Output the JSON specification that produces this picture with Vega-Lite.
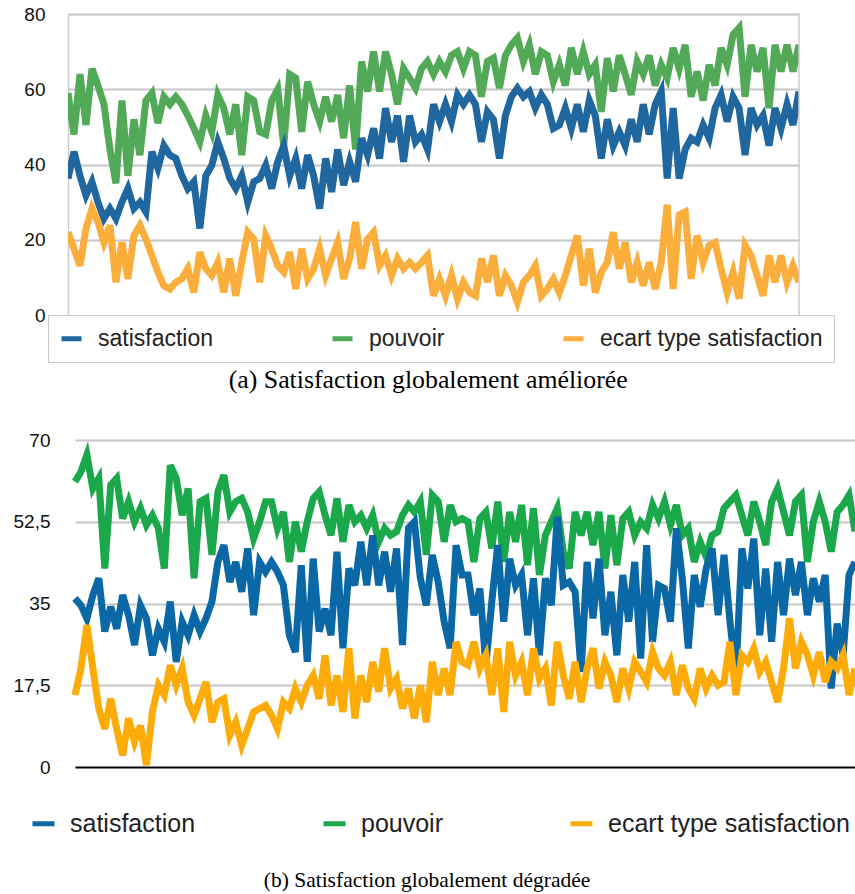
{
  "$schema": "https://vega.github.io/schema/vega-lite/v6.json",
  "padding": {"left": 13, "top": 5, "right": 0, "bottom": 0},
  "background": "white",
  "spacing": 38,
  "config": {
    "view": {"stroke": null},
    "font": "Liberation Sans",
    "title": {"font": "Liberation Serif", "fontWeight": "normal", "color": "#000"}
  },
  "datasets": {
    "a": [
      {"t":0,"s":36.3,"p":59,"e":22},{"t":1,"s":43.4,"p":48,"e":17.6},{"t":2,"s":37,"p":64,"e":13.1},{"t":3,"s":31.8,"p":50.5,"e":23},{"t":4,"s":35.4,"p":65.5,"e":28.3},{"t":5,"s":30,"p":61,"e":24.7},{"t":6,"s":25.6,"p":56,"e":19.3},{"t":7,"s":28.3,"p":44,"e":23.8},{"t":8,"s":25.6,"p":35,"e":8.7},{"t":9,"s":30,"p":57,"e":19.3},
      {"t":10,"s":33.6,"p":37,"e":9.6},{"t":11,"s":28.3,"p":52,"e":21.1},{"t":12,"s":30,"p":42.5,"e":23.8},{"t":13,"s":27.4,"p":57,"e":20.2},{"t":14,"s":43.4,"p":59,"e":15.8},{"t":15,"s":39,"p":51,"e":11.4},{"t":16,"s":45,"p":58,"e":7.8},{"t":17,"s":42.5,"p":56,"e":6.9},{"t":18,"s":41.6,"p":58,"e":8.7},{"t":19,"s":37,"p":56,"e":9.6},
      {"t":20,"s":33.6,"p":53,"e":12.3},{"t":21,"s":35.4,"p":49.6,"e":6},{"t":22,"s":23,"p":46,"e":16.7},{"t":23,"s":37,"p":53,"e":12.3},{"t":24,"s":39.8,"p":48.7,"e":10.5},{"t":25,"s":46,"p":58.5,"e":14},{"t":26,"s":41.6,"p":55,"e":6},{"t":27,"s":36.3,"p":48,"e":15},{"t":28,"s":33.6,"p":56,"e":5.1},{"t":29,"s":37,"p":42.5,"e":14},
      {"t":30,"s":30,"p":58,"e":22},{"t":31,"s":35.4,"p":57,"e":20.2},{"t":32,"s":36.3,"p":48.7,"e":8.7},{"t":33,"s":39.8,"p":48,"e":21.1},{"t":34,"s":33.6,"p":57,"e":17.6},{"t":35,"s":40.7,"p":60,"e":13.1},{"t":36,"s":45,"p":45,"e":11.4},{"t":37,"s":37,"p":64,"e":16.7},{"t":38,"s":41.6,"p":63,"e":6.9},{"t":39,"s":33.6,"p":48.7,"e":17.6},
      {"t":40,"s":42.5,"p":62,"e":9.6},{"t":41,"s":37,"p":56,"e":12.3},{"t":42,"s":28.3,"p":51.4,"e":17.6},{"t":43,"s":41.6,"p":58,"e":10.5},{"t":44,"s":32.7,"p":51.4,"e":15},{"t":45,"s":44,"p":58.5,"e":19.3},{"t":46,"s":34.5,"p":47,"e":9.6},{"t":47,"s":40.7,"p":61,"e":15},{"t":48,"s":35.4,"p":44,"e":24.7},{"t":49,"s":47,"p":67.4,"e":12.3},
      {"t":50,"s":42.5,"p":59.4,"e":20.2},{"t":51,"s":49.6,"p":70,"e":22},{"t":52,"s":41.6,"p":59.4,"e":13.1},{"t":53,"s":55,"p":70,"e":15.8},{"t":54,"s":46,"p":64,"e":10.5},{"t":55,"s":53,"p":56,"e":15},{"t":56,"s":40.7,"p":65.5,"e":12.3},{"t":57,"s":53,"p":63,"e":14},{"t":58,"s":46,"p":60.3,"e":12.3},{"t":59,"s":48,"p":65.5,"e":14},
      {"t":60,"s":44,"p":67.4,"e":15.8},{"t":61,"s":56,"p":64,"e":5.1},{"t":62,"s":51.4,"p":67.4,"e":9.6},{"t":63,"s":56,"p":64.7,"e":5.1},{"t":64,"s":51.4,"p":69,"e":10.5},{"t":65,"s":58.5,"p":70,"e":4.3},{"t":66,"s":56,"p":65.5,"e":8.7},{"t":67,"s":58.5,"p":70,"e":6},{"t":68,"s":56,"p":69,"e":5.1},{"t":69,"s":46,"p":58,"e":15},
      {"t":70,"s":54,"p":67.4,"e":8.7},{"t":71,"s":52,"p":68.3,"e":15.8},{"t":72,"s":41.6,"p":60.3,"e":5.1},{"t":73,"s":53,"p":69,"e":10.5},{"t":74,"s":58,"p":71.8,"e":7.8},{"t":75,"s":60.3,"p":73.6,"e":3.4},{"t":76,"s":58,"p":67.4,"e":8.7},{"t":77,"s":59.4,"p":71.8,"e":10.5},{"t":78,"s":55,"p":64,"e":13.1},{"t":79,"s":58.5,"p":70,"e":5.1},
      {"t":80,"s":56,"p":69,"e":6.9},{"t":81,"s":49.6,"p":62,"e":9.6},{"t":82,"s":50.5,"p":66.5,"e":6},{"t":83,"s":55,"p":61,"e":10.5},{"t":84,"s":49.6,"p":71,"e":15.8},{"t":85,"s":56,"p":64,"e":21.1},{"t":86,"s":48.7,"p":70,"e":7.8},{"t":87,"s":57,"p":64,"e":17.6},{"t":88,"s":53,"p":66.5,"e":6},{"t":89,"s":41.6,"p":54,"e":11.4},
      {"t":90,"s":52,"p":68.3,"e":14},{"t":91,"s":45,"p":59.4,"e":22},{"t":92,"s":48.7,"p":69,"e":12.3},{"t":93,"s":45,"p":64,"e":19.3},{"t":94,"s":52,"p":58.5,"e":8.7},{"t":95,"s":46,"p":67.4,"e":14},{"t":96,"s":56,"p":64,"e":7.8},{"t":97,"s":48,"p":69,"e":14},{"t":98,"s":56,"p":61,"e":6.9},{"t":99,"s":59.4,"p":66.5,"e":14},
      {"t":100,"s":36.3,"p":63,"e":29.3},{"t":101,"s":55,"p":71,"e":6.9},{"t":102,"s":36.3,"p":65.5,"e":26.6},{"t":103,"s":44,"p":71.8,"e":27.4},{"t":104,"s":47,"p":58,"e":9.6},{"t":105,"s":46,"p":64.7,"e":21.1},{"t":106,"s":50.5,"p":57,"e":14},{"t":107,"s":47,"p":66.5,"e":18.5},{"t":108,"s":55,"p":61,"e":19.3},{"t":109,"s":58.5,"p":71,"e":12.3},
      {"t":110,"s":51.4,"p":66.5,"e":6},{"t":111,"s":58,"p":74.5,"e":11.4},{"t":112,"s":55,"p":76.3,"e":4.3},{"t":113,"s":42.5,"p":58,"e":18.5},{"t":114,"s":55,"p":71.8,"e":15.8},{"t":115,"s":50.5,"p":64.7,"e":10.5},{"t":116,"s":53,"p":71,"e":5.1},{"t":117,"s":45,"p":55,"e":15.8},{"t":118,"s":55,"p":71.8,"e":8.7},{"t":119,"s":49.6,"p":64.7,"e":15.8},
      {"t":120,"s":56,"p":71.8,"e":8.7},{"t":121,"s":50.5,"p":64.7,"e":13.1},{"t":122,"s":59.4,"p":71.8,"e":8.7}
    ],
    "b": [
      {"t":0,"s":36.1,"p":61.1,"e":15.4},{"t":1,"s":34.6,"p":63.2,"e":21.1},{"t":2,"s":31.8,"p":66.8,"e":30.4},{"t":3,"s":36.8,"p":59.6,"e":21.1},{"t":4,"s":40.4,"p":61.8,"e":12.5},{"t":5,"s":29,"p":42.5,"e":8.2},{"t":6,"s":34.3,"p":60.4,"e":14.6},{"t":7,"s":29.6,"p":61.8,"e":8.2},{"t":8,"s":36.8,"p":53.2,"e":2.5},{"t":9,"s":32.5,"p":56.8,"e":10.4},
      {"t":10,"s":26.1,"p":52.5,"e":5.4},{"t":11,"s":34.6,"p":55.4,"e":8.9},{"t":12,"s":31.8,"p":51.8,"e":0.4},{"t":13,"s":23.9,"p":53.9,"e":11.8},{"t":14,"s":29.6,"p":51.1,"e":17.5},{"t":15,"s":26.8,"p":42.5,"e":15.4},{"t":16,"s":35.4,"p":64.6,"e":21.8},{"t":17,"s":22.5,"p":61.8,"e":17.5},{"t":18,"s":31.1,"p":53.9,"e":21.1},{"t":19,"s":28.2,"p":59.6,"e":13.9},
      {"t":20,"s":32.5,"p":40.4,"e":11.1},{"t":21,"s":29,"p":56.8,"e":14.6},{"t":22,"s":31.8,"p":57.5,"e":18.2},{"t":23,"s":35.4,"p":45.4,"e":9.6},{"t":24,"s":43.9,"p":58.9,"e":13.9},{"t":25,"s":47.5,"p":62.5,"e":14.6},{"t":26,"s":39.6,"p":54.6,"e":6.8},{"t":27,"s":43.9,"p":56.8,"e":9.6},{"t":28,"s":37.5,"p":57.5,"e":4.6},{"t":29,"s":46.8,"p":54.6,"e":8.2},
      {"t":30,"s":32.5,"p":48.9,"e":11.8},{"t":31,"s":43.9,"p":52.5,"e":12.5},{"t":32,"s":41.8,"p":56.8,"e":13.2},{"t":33,"s":43.9,"p":56.8,"e":11.1},{"t":34,"s":41.8,"p":51.1,"e":8.2},{"t":35,"s":38.9,"p":54.6,"e":13.9},{"t":36,"s":28.2,"p":43.9,"e":12.5},{"t":37,"s":24.6,"p":52.5,"e":16.8},{"t":38,"s":43.2,"p":46.1,"e":13.9},{"t":39,"s":22.5,"p":52.5,"e":17.5},
      {"t":40,"s":44.6,"p":57.5,"e":19.6},{"t":41,"s":29,"p":58.9,"e":14.6},{"t":42,"s":33.9,"p":53.9,"e":23.9},{"t":43,"s":28.2,"p":49.6,"e":13.2},{"t":44,"s":46.1,"p":57.5,"e":19.6},{"t":45,"s":25.4,"p":48.2,"e":11.8},{"t":46,"s":42.5,"p":56.1,"e":25.4},{"t":47,"s":38.9,"p":52.5,"e":10.4},{"t":48,"s":48.2,"p":53.9,"e":19.6},{"t":49,"s":38.9,"p":51.1,"e":13.9},
      {"t":50,"s":49.6,"p":53.9,"e":22.5},{"t":51,"s":38.9,"p":48.2,"e":16.1},{"t":52,"s":46.1,"p":51.1,"e":25.4},{"t":53,"s":37.5,"p":49.6,"e":16.8},{"t":54,"s":46.8,"p":50.4,"e":18.9},{"t":55,"s":26.1,"p":53.9,"e":12.5},{"t":56,"s":51.1,"p":56.1,"e":16.8},{"t":57,"s":52.5,"p":54.6,"e":10.4},{"t":58,"s":40.4,"p":56.8,"e":17.5},{"t":59,"s":34.6,"p":45.4,"e":9.6},
      {"t":60,"s":45.4,"p":58.2,"e":22.5},{"t":61,"s":39.6,"p":56.8,"e":15.4},{"t":62,"s":31.1,"p":48.2,"e":21.1},{"t":63,"s":25.4,"p":56.1,"e":15.4},{"t":64,"s":47.5,"p":52.5,"e":26.8},{"t":65,"s":41.1,"p":53.2,"e":22.5},{"t":66,"s":41.1,"p":52.5,"e":21.8},{"t":67,"s":32.5,"p":43.9,"e":26.8},{"t":68,"s":38.2,"p":53.2,"e":21.1},{"t":69,"s":21.8,"p":54.6,"e":23.9},
      {"t":70,"s":35.4,"p":46.8,"e":15.4},{"t":71,"s":47.5,"p":56.8,"e":25.4},{"t":72,"s":31.1,"p":43.9,"e":11.8},{"t":73,"s":44.6,"p":54.6,"e":26.8},{"t":74,"s":38.9,"p":48.2,"e":19.6},{"t":75,"s":41.1,"p":56.1,"e":22.5},{"t":76,"s":28.2,"p":43.2,"e":15.4},{"t":77,"s":40.4,"p":55.4,"e":25.4},{"t":78,"s":23.9,"p":41.1,"e":18.9},{"t":79,"s":40.4,"p":49.6,"e":21.1},
      {"t":80,"s":34.6,"p":52.5,"e":13.2},{"t":81,"s":53.6,"p":55.4,"e":26.8},{"t":82,"s":38.9,"p":46.1,"e":19.6},{"t":83,"s":39.6,"p":42.5,"e":14.6},{"t":84,"s":37.5,"p":54.6,"e":22.5},{"t":85,"s":20.4,"p":49.6,"e":13.9},{"t":86,"s":43.9,"p":54.6,"e":21.1},{"t":87,"s":31.8,"p":47.5,"e":25.4},{"t":88,"s":44.6,"p":54.6,"e":16.8},{"t":89,"s":28.2,"p":42.5,"e":22.5},
      {"t":90,"s":37.5,"p":53.9,"e":19.6},{"t":91,"s":23.9,"p":43.2,"e":13.9},{"t":92,"s":41.1,"p":53.2,"e":21.1},{"t":93,"s":31.1,"p":54.6,"e":16.8},{"t":94,"s":43.9,"p":49.6,"e":22.5},{"t":95,"s":23.2,"p":52.5,"e":20.4},{"t":96,"s":47.5,"p":51.1,"e":18.2},{"t":97,"s":26.8,"p":56.1,"e":24.6},{"t":98,"s":38.9,"p":53.2,"e":21.1},{"t":99,"s":38.2,"p":56.8,"e":19.6},
      {"t":100,"s":31.1,"p":51.8,"e":22.5},{"t":101,"s":51.1,"p":56.1,"e":15.4},{"t":102,"s":40.4,"p":49.6,"e":21.8},{"t":103,"s":25.4,"p":51.1,"e":16.8},{"t":104,"s":41.1,"p":43.9,"e":14.6},{"t":105,"s":34.3,"p":48.2,"e":21.1},{"t":106,"s":42.5,"p":45,"e":16.8},{"t":107,"s":46.8,"p":49.6,"e":19.6},{"t":108,"s":32.5,"p":50.4,"e":17.5},{"t":109,"s":45.4,"p":55.4,"e":18.2},
      {"t":110,"s":31.1,"p":56.8,"e":26.8},{"t":111,"s":19.6,"p":58.2,"e":15.4},{"t":112,"s":46.8,"p":53.9,"e":23.9},{"t":113,"s":38.2,"p":49.6,"e":22.5},{"t":114,"s":48.9,"p":56.8,"e":25.4},{"t":115,"s":28.2,"p":52.5,"e":20.4},{"t":116,"s":42.5,"p":47.5,"e":22.5},{"t":117,"s":26.8,"p":56.8,"e":18.2},{"t":118,"s":43.9,"p":59.6,"e":13.9},{"t":119,"s":32.5,"p":54.6,"e":21.1},
      {"t":120,"s":44.6,"p":49.6,"e":31.8},{"t":121,"s":36.8,"p":56.8,"e":21.1},{"t":122,"s":43.9,"p":58.2,"e":26.8},{"t":123,"s":32.5,"p":43.9,"e":24},{"t":124,"s":40.4,"p":52.5,"e":19.6},{"t":125,"s":35.4,"p":56.8,"e":24.6},{"t":126,"s":41.1,"p":52.5,"e":18.2},{"t":127,"s":16.8,"p":46.1,"e":22.5},{"t":128,"s":30.7,"p":54.6,"e":21.1},{"t":129,"s":23.9,"p":56.1,"e":24},
      {"t":130,"s":41.1,"p":58.2,"e":15.4},{"t":131,"s":43.9,"p":50.4,"e":21.1}
    ]
  },
  "vconcat": [
    {
      "width": 731,
      "height": 301,
      "title": {"text": "(a) Satisfaction globalement améliorée", "orient": "bottom", "anchor": "middle", "frame": "bounds", "fontSize": 25.8, "offset": 5, "dx": -1},
      "layer": [
        {
          "data": {"name": "a"},
          "transform": [{"fold": ["p", "s", "e"], "as": ["serie", "v"]}],
          "mark": {"type": "line", "strokeWidth": 7, "strokeJoin": "miter", "clip": true},
          "encoding": {
            "x": {"field": "t", "type": "quantitative", "scale": {"domain": [0, 122], "nice": false, "zero": false}, "axis": null},
            "y": {"field": "v", "type": "quantitative", "scale": {"domain": [0, 80], "nice": false},
              "axis": {"values": [0, 20, 40, 60, 80], "title": null, "ticks": false, "grid": true, "gridColor": "#c6c6c6", "gridWidth": 2,
                "gridOpacity": {"condition": {"test": "datum.value === 0", "value": 0}, "value": 1},
                "domain": true, "domainColor": "#cccccc", "domainWidth": 1.5, "labelFontSize": 19, "labelColor": "#111", "labelPadding": 23}},
            "color": {"field": "serie", "type": "nominal",
              "scale": {"domain": ["s", "p", "e"], "range": ["#21679f", "#52a957", "#fbae3c"]},
              "legend": {"orient": "none", "legendX": -20, "legendY": 301, "direction": "horizontal", "title": null,
                "symbolType": "stroke", "symbolSize": 400, "symbolStrokeWidth": 5, "labelFontSize": 23, "labelColor": "#222",
                "labelOffset": 14, "columnPadding": 108, "padding": 11, "strokeColor": "#c8c8c8", "labelLimit": 400,
                "labelExpr": "datum.label == 's' ? 'satisfaction' : datum.label == 'p' ? 'pouvoir' : 'ecart type satisfaction'"}}
          }
        },
        {
          "data": {"values": [{"r": 1}]},
          "mark": {"type": "rule", "color": "#cccccc", "strokeWidth": 1.5},
          "encoding": {"x": {"datum": 122}}
        }
      ]
    },
    {
      "width": 787,
      "height": 327,
      "title": {"text": "(b) Satisfaction globalement dégradée", "orient": "bottom", "anchor": "middle", "frame": "bounds", "fontSize": 21.5, "offset": 33, "dx": -7},
      "data": {"name": "b"},
      "transform": [{"fold": ["p", "s", "e"], "as": ["serie", "v"]}],
      "mark": {"type": "line", "strokeWidth": 7, "strokeJoin": "miter", "clip": true},
      "encoding": {
        "x": {"field": "t", "type": "quantitative", "scale": {"domain": [0, 131], "range": [7, 787], "nice": false, "zero": false},
          "axis": {"labels": false, "ticks": false, "grid": false, "title": null, "domain": true, "domainColor": "#000", "domainWidth": 2}},
        "y": {"field": "v", "type": "quantitative", "scale": {"domain": [0, 70], "nice": false},
          "axis": {"values": [0, 17.5, 35, 52.5, 70], "title": null, "ticks": false, "domain": false, "grid": true, "gridColor": "#c6c6c6", "gridWidth": 2,
            "gridOpacity": {"condition": {"test": "datum.value === 0", "value": 0}, "value": 1},
            "labelExpr": "replace(toString(datum.value), '.', ',')", "labelFontSize": 19, "labelColor": "#111", "labelPadding": 18}},
        "color": {"field": "serie", "type": "nominal",
          "scale": {"domain": ["s", "p", "e"], "range": ["#0a68a6", "#1aa84b", "#fdab08"]},
          "legend": {"orient": "none", "legendX": -38, "legendY": 370, "direction": "horizontal", "title": null,
            "symbolType": "stroke", "symbolSize": 484, "symbolStrokeWidth": 5, "labelFontSize": 25, "labelColor": "#222",
            "labelOffset": 13, "columnPadding": 117, "padding": 0, "labelLimit": 400,
            "labelExpr": "datum.label == 's' ? 'satisfaction' : datum.label == 'p' ? 'pouvoir' : 'ecart type satisfaction'"}}
      }
    }
  ],
  "resolve": {"scale": {"color": "independent"}}
}
